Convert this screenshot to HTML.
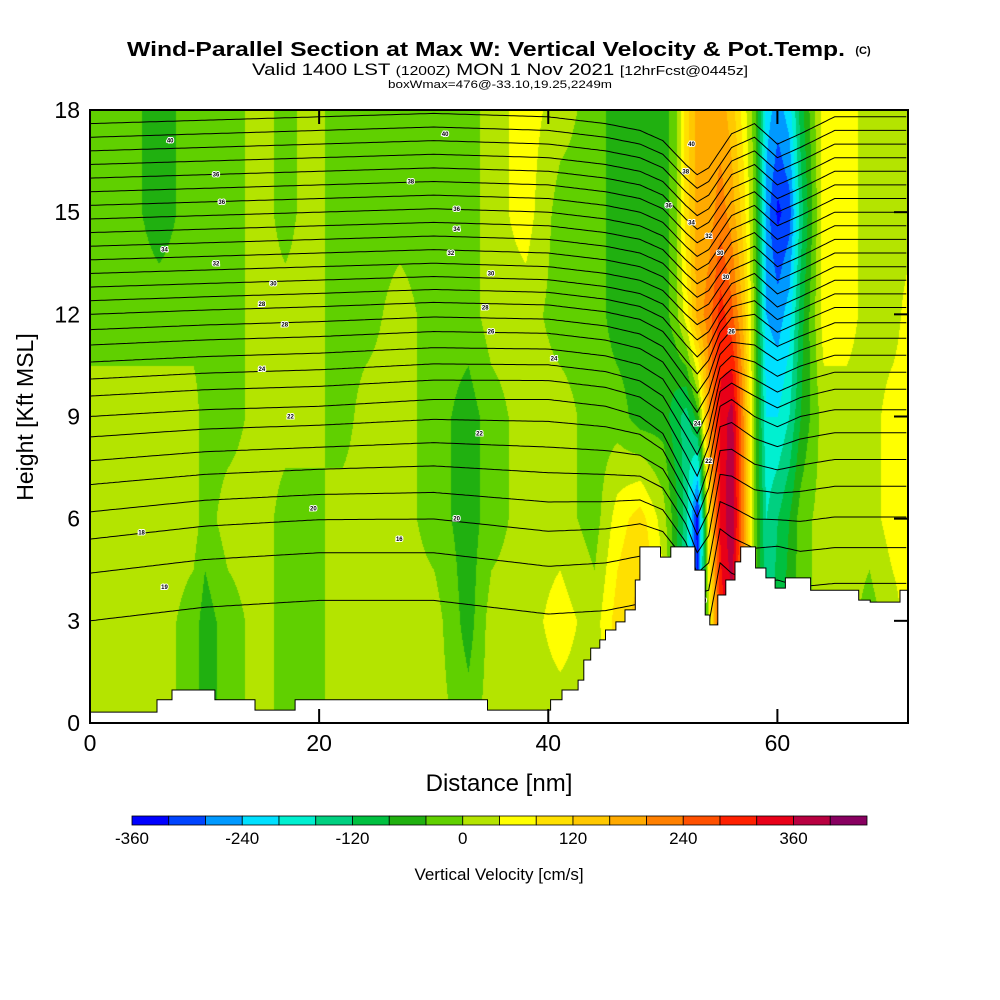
<!DOCTYPE html>
<html><head><meta charset="utf-8">
<style>
body{margin:0;background:#fff;}
#wrap{position:relative;width:1000px;height:1000px;background:#fff;font-family:"Liberation Sans",sans-serif;overflow:hidden}
#field{position:absolute;left:90px;top:110px}
svg{position:absolute;left:0;top:0}
</style></head><body>
<div id="wrap">
<canvas id="field" width="818" height="613"></canvas>
<svg id="s" width="1000" height="1000"></svg>
</div>
<script>
// ---- data ----
const gridX = [0,3,6,9,10,12,15,17,19,22,24,27,30,33,35,38,41,44,46,48,50,51,52,53,54,55,56,57,58,59,60,61,62,64,66,68,70,71.5];
const gridY = [0,3,6,9,12,15,18];
const w0  = [20,20,20,-20,-60,-20,20,-20,-20,20,20,20,20,-20,20,20,20,20,60,60,20,20,20,-100,20,200,300,200,-20,-100,-60,-20,-20,-20,20,20,20,20];
const w3  = [20,20,20,-20,-60,-20,20,-20,-20,20,20,20,20,-60,20,20,60,20,100,140,60,-60,-200,-300,40,300,350,200,-20,-140,-100,-60,-20,20,20,-20,20,60];
const w6  = [20,20,20,20,-20,20,20,-20,-20,20,20,20,-20,-60,-20,20,20,-20,60,100,20,-60,-140,-350,100,330,400,200,-20,-160,-120,-80,-20,20,20,20,60,60];
const w9  = [20,20,20,20,-20,-20,20,20,20,-20,20,20,-20,-60,-20,20,20,-20,-20,-60,-60,-100,-140,-60,200,330,380,200,-20,-200,-200,-160,-80,20,20,20,60,60];
const w12 = [-20,-20,-20,-20,-20,-20,20,20,20,-20,-20,20,-20,-20,20,20,-20,-20,-60,-60,-60,-20,60,180,220,300,250,150,-20,-240,-260,-220,-100,60,60,20,20,60];
const w15 = [-20,-20,-60,-20,-20,-20,20,-20,20,-20,-20,-20,-20,-20,20,60,-20,-20,-60,-60,-60,-20,100,180,180,220,180,100,-20,-260,-330,-300,-140,60,60,20,20,20];
const w18 = [-20,-20,-60,-20,-20,-20,20,-20,20,-20,-20,-20,-20,-20,20,60,20,-20,-60,-60,-60,-20,100,180,180,180,140,60,-20,-220,-260,-220,-100,60,60,20,20,20];
const wRows = [w0,w3,w6,w9,w12,w15,w18];
const colorLevels = [-360,-320,-280,-240,-200,-160,-120,-80,-40,0,40,80,120,160,200,240,280,320,360,400];
const colorTicks = [-360,-240,-120,0,120,240,360];
const palette = ["#0000ff","#0044ff","#0099ff","#00e0ff","#00f0d0","#00d080","#00c040","#20b010","#60d000","#b4e400","#ffff00","#ffe000","#ffc800","#ffaa00","#ff8000","#ff5000","#ff2000","#e80018","#b80040","#880060"];
const terrainX = [0,5.85,7.16,10.9,14.4,17.9,34.7,40.2,41.2,42.6,43.1,43.7,44.5,45.0,45.9,46.7,47.6,48.0,49.8,50.7,52.8,53.7,54.1,54.8,55.5,56.3,56.8,58.1,59.0,59.8,60.7,62.9,67.1,68.1,70.7];
const terrainH = [0.32,0.68,0.97,0.68,0.38,0.68,0.38,0.68,0.97,1.26,1.85,2.2,2.44,2.73,2.97,3.32,4.2,5.17,4.87,5.17,4.49,3.17,2.88,3.76,4.2,4.73,5.17,4.55,4.26,3.96,4.26,3.9,3.61,3.55,3.9];
const thetaBase = [17.6,17.2,16.8,16.4,16.0,15.6,15.2,14.8,14.4,14.0,13.6,13.2,12.8,12.4,12.0,11.55,11.1,10.6,10.1,9.6,9.0,8.4,7.7,7.0,6.2,5.4,4.4,3.0];
const dispX = [0,10,20,30,40,45,48,50,52,53,54,55,56,58,60,62,65,71.4];
const dispUpper = [0,0.1,0.2,0.3,0.2,0,-0.2,-0.5,-1.2,-1.5,-1.3,-0.8,-0.3,0,-0.6,-0.3,0.2,0.2];
const dispMid = [0,0.2,0.3,0.5,0.5,0.3,0,-0.5,-1.8,-2.5,-1.5,0.3,0.5,0,-0.3,0,0.2,0.2];
const dispLow = [0,0.4,0.6,0.6,0.2,0.3,0.5,0.3,-0.5,-1.5,-1.5,0.3,0,-0.3,-0.2,-0.4,-0.3,-0.3];
const xTicks = [0,20,40,60];
const yTicks = [0,3,6,9,12,15,18];
const contourLabels = [["40",7,17.1],["36",11,16.1],["36",11.5,15.3],["34",6.5,13.9],["32",11,13.5],["30",16,12.9],["28",15,12.3],["28",17,11.7],["24",15,10.4],["22",17.5,9.0],["20",19.5,6.3],["18",4.5,5.6],["16",27,5.4],["40",31,17.3],["38",28,15.9],["36",32,15.1],["34",32,14.5],["32",31.5,13.8],["30",35,13.2],["28",34.5,12.2],["26",35,11.5],["24",40.5,10.7],["22",34,8.5],["20",32,6.0],["19",6.5,4.0],["40",52.5,17.0],["38",52,16.2],["36",50.5,15.2],["34",52.5,14.7],["32",54,14.3],["30",55,13.8],["30",55.5,13.1],["26",56,11.5],["24",53,8.8],["22",54,7.7],["20",53.5,3.6]];

// ---- axes ----
const L=90,R=908,T=110,B=723,XMAX=71.4,YMAX=18;
const sx=v=>L+(v/XMAX)*(R-L);
const sy=v=>B-(v/YMAX)*(B-T);

function interp(xa,ya,x){
  if(x<=xa[0])return ya[0];
  for(let i=1;i<xa.length;i++){ if(x<=xa[i]){const t=(x-xa[i-1])/(xa[i]-xa[i-1]);return ya[i-1]+t*(ya[i]-ya[i-1]);} }
  return ya[ya.length-1];
}
function wAt(x,y){
  let j=0; while(j<gridY.length-2 && y>gridY[j+1]) j++;
  const t=Math.max(0,Math.min(1,(y-gridY[j])/(gridY[j+1]-gridY[j])));
  const a=interp(gridX,wRows[j],x), b=interp(gridX,wRows[j+1],x);
  return a+t*(b-a);
}
function colorIdx(v){let k=0;for(let i=0;i<colorLevels.length;i++){if(v>=colorLevels[i])k=i;}return k;}
function hex(c){return [parseInt(c.slice(1,3),16),parseInt(c.slice(3,5),16),parseInt(c.slice(5,7),16)];}
const pal=palette.map(hex);

const cv=document.getElementById('field'),ctx=cv.getContext('2d');
const W=cv.width,H=cv.height,img=ctx.createImageData(W,H);
for(let py=0;py<H;py++){const y=(H-py)/H*YMAX;
  for(let px=0;px<W;px++){const x=px/W*XMAX;const c=pal[colorIdx(wAt(x,y))];const o=(py*W+px)*4;img.data[o]=c[0];img.data[o+1]=c[1];img.data[o+2]=c[2];img.data[o+3]=255;}}
ctx.putImageData(img,0,0);

const NS="http://www.w3.org/2000/svg",s=document.getElementById('s');
function el(tag,attrs,parent){const e=document.createElementNS(NS,tag);for(const k in attrs)e.setAttribute(k,attrs[k]);(parent||s).appendChild(e);return e;}

const cg=el('g',{});


thetaBase.forEach((h0)=>{
  let d='';
  for(let x=0;x<=XMAX+0.01;x+=0.25){
    const du=interp(dispX,dispUpper,x),dm=interp(dispX,dispMid,x),dl=interp(dispX,dispLow,x);
    let dd; if(h0>=13)dd=du; else if(h0>=9){const t=(h0-9)/4;dd=dm+t*(du-dm);} else if(h0>=5){const t=(h0-5)/4;dd=dl+t*(dm-dl);} else dd=dl;
    const h=h0+dd;
    d+=(d?'L':'M')+sx(x).toFixed(1)+' '+sy(Math.min(h,YMAX)).toFixed(1);
  }
  const p=el('path',{d:d,fill:'none',stroke:'#000','stroke-width':1},cg);
  
  
});
contourLabels.forEach(c=>{
  const t=el('text',{x:sx(c[1]),y:sy(c[2])+2,'font-size':6,'font-weight':'bold','text-anchor':'middle',fill:'#000',stroke:'#fff','stroke-width':2,'paint-order':'stroke'},cg);
  t.textContent=c[0];
  
  
});

let td='M'+sx(0)+' '+sy(terrainH[0]);
for(let i=0;i<terrainX.length;i++){const xe=i+1<terrainX.length?terrainX[i+1]:XMAX;td+='L'+sx(terrainX[i]).toFixed(1)+' '+sy(terrainH[i]).toFixed(1)+'L'+sx(xe).toFixed(1)+' '+sy(terrainH[i]).toFixed(1);}
td+='L'+R+' '+B+'L'+L+' '+B+'Z';
const tp=el('path',{d:td,fill:'#fff',stroke:'#000','stroke-width':1});



const fr=el('rect',{x:L,y:T,width:R-L,height:B-T,fill:'none',stroke:'#000','stroke-width':2});



xTicks.forEach(v=>{
  const t=el('line',{x1:sx(v),x2:sx(v),y1:B,y2:B-14,stroke:'#000','stroke-width':2});
  
  
  const t2=el('line',{x1:sx(v),x2:sx(v),y1:T,y2:T+14,stroke:'#000','stroke-width':2});
  
  
  const lb=el('text',{x:sx(v),y:B+28,'font-size':23,'text-anchor':'middle',fill:'#000'});
  lb.textContent=v;
  
  
});
yTicks.forEach(v=>{
  const t=el('line',{x1:R,x2:R-14,y1:sy(v),y2:sy(v),stroke:'#000','stroke-width':2});
  
  
  const lb=el('text',{x:80,y:sy(v)+8,'font-size':23,'text-anchor':'end',fill:'#000'});
  lb.textContent=v;
  
  
});

const CB0=132,CB1=867,CBY=816,CBH=9,bw=(CB1-CB0)/palette.length;
palette.forEach((c,i)=>{
  const r=el('rect',{x:CB0+i*bw,y:CBY,width:bw,height:CBH,fill:c,stroke:'#000','stroke-width':0.8});
  
  
});
colorTicks.forEach(v=>{
  const i=colorLevels.indexOf(v);
  const lb=el('text',{x:CB0+i*bw,y:CBY+28,'font-size':17,'text-anchor':'middle',fill:'#000'});
  lb.textContent=v;
  
  
});
</script>
<svg width="1000" height="1000" style="pointer-events:none">
<text x="127" y="56" font-size="20" font-weight="bold" textLength="718" lengthAdjust="spacingAndGlyphs" font-family="Liberation Sans">Wind-Parallel Section at Max W: Vertical Velocity &amp; Pot.Temp.</text>
<text x="863" y="54" font-size="11" font-weight="bold" text-anchor="middle" font-family="Liberation Sans">(C)</text>
<text x="252" y="75" font-size="17" textLength="496" lengthAdjust="spacingAndGlyphs" font-family="Liberation Sans">Valid 1400 LST <tspan font-size="13">(1200Z)</tspan> MON 1 Nov 2021 <tspan font-size="13">[12hrFcst@0445z]</tspan></text>
<text x="388" y="88" font-size="11" textLength="224" lengthAdjust="spacingAndGlyphs" font-family="Liberation Sans">boxWmax=476@-33.10,19.25,2249m</text>
<text x="499" y="791" font-size="24" text-anchor="middle" font-family="Liberation Sans">Distance [nm]</text>
<text transform="translate(33,417) rotate(-90)" font-size="23" text-anchor="middle" font-family="Liberation Sans">Height [Kft MSL]</text>
<text x="499" y="880" font-size="17" text-anchor="middle" font-family="Liberation Sans">Vertical Velocity [cm/s]</text>
</svg>
</body></html>
